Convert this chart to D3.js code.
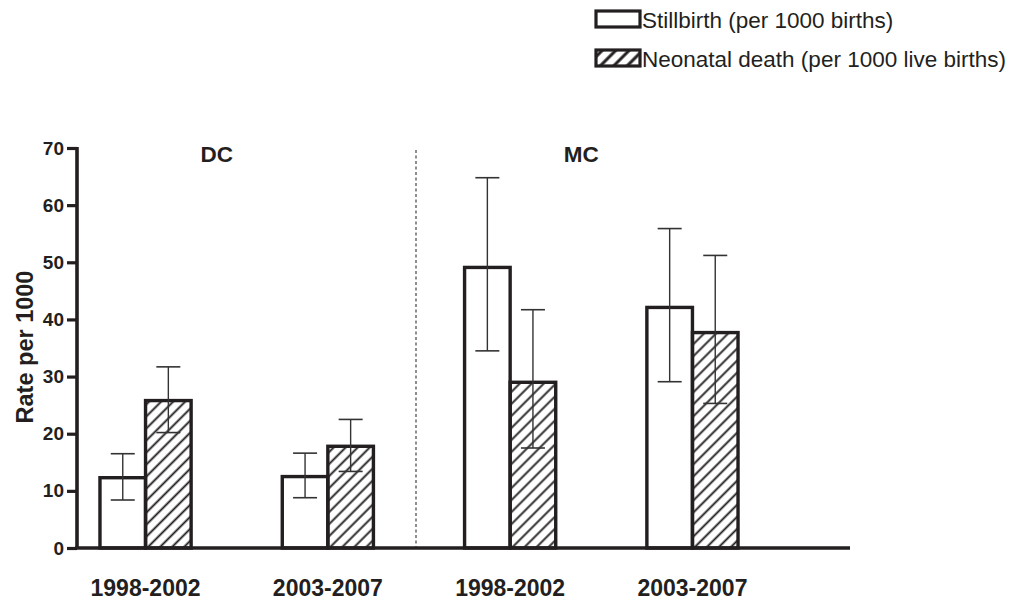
<!DOCTYPE html>
<html>
<head>
<meta charset="utf-8">
<script src="https://cdn.jsdelivr.net/npm/d3@7"></script>
<style>
  body { margin: 0; background: #fff; }
  text { font-family: "Liberation Sans", Arial, sans-serif; fill: #231f20; }
</style>
</head>
<body>
<div class="chart"></div>
<script>
// values
const cohorts = ['DC', 'DC', 'MC', 'MC'];
const periods = ['1998-2002', '2003-2007', '1998-2002', '2003-2007'];
const series = ['stillbirth', 'neonatal'];
const seriesLabels = ['Stillbirth (per 1000 births)', 'Neonatal death (per 1000 live births)'];

const stillbirth = [12.3, 12.5, 49.1, 42.1];
const stillLow   = [8.4, 8.8, 34.5, 29.1];
const stillHigh  = [16.5, 16.6, 64.8, 55.9];

const neonatal = [25.8, 17.8, 29.0, 37.7];
const neoLow   = [20.2, 13.4, 17.5, 25.3];
const neoHigh  = [31.7, 22.5, 41.7, 51.2];

const yTicks = [0, 10, 20, 30, 40, 50, 60, 70];

const width = 1011;
const height = 602;
const ink = '#231f20';

var keys = periods.map(function(p, i){ return cohorts[i] + ' ' + p; });

var rows = keys.map(function(k, i){
    return {
        key: k, cohort: cohorts[i], period: periods[i],
        values: [
            {s: 'stillbirth', v: stillbirth[i], lo: stillLow[i], hi: stillHigh[i]},
            {s: 'neonatal', v: neonatal[i], lo: neoLow[i], hi: neoHigh[i]}
        ]
    };
});

var svg = d3.select('.chart')
    .append('svg')
    .attr('width', width)
    .attr('height', height);

// hatch patterns (bars, and a coarser one for the legend swatch)
var defs = svg.append('defs');
function hatch(id, step, lw){
    defs.append('pattern')
        .attr('id', id)
        .attr('patternUnits', 'userSpaceOnUse')
        .attr('width', step)
        .attr('height', step)
        .attr('patternTransform', 'rotate(45)')
        .append('line')
        .attr('x1', step / 2).attr('y1', 0)
        .attr('x2', step / 2).attr('y2', step)
        .attr('stroke', ink)
        .attr('stroke-width', lw);
}
hatch('hatch', 8.5, 1.9);
hatch('hatch-legend', 9.5, 3);

var x0 = d3.scaleBand()
    .domain(keys)
    .range([77, 761])
    .paddingInner(0.5)
    .paddingOuter(0.126);

var x1 = d3.scaleBand()
    .domain(series)
    .range([0, x0.bandwidth()]);

var y = d3.scaleLinear()
    .domain([0, 70])
    .range([548, 148]);

// dashed divider between DC and MC
var divX = (x0(keys[1]) + x0.bandwidth() + x0(keys[2])) / 2 - 3;
svg.append('line')
    .attr('x1', divX).attr('x2', divX)
    .attr('y1', 150).attr('y2', y(0))
    .attr('stroke', '#444')
    .attr('stroke-width', 1.2)
    .attr('stroke-dasharray', '3,2.5');

// bars
var groups = svg.selectAll('g.group')
    .data(rows)
    .enter()
    .append('g')
    .attr('class', 'group')
    .attr('transform', function(d){ return 'translate(' + x0(d.key) + ',0)'; });

groups.selectAll('rect')
    .data(function(d){ return d.values; })
    .enter()
    .append('rect')
    .attr('x', function(d){ return x1(d.s); })
    .attr('y', function(d){ return y(d.v); })
    .attr('width', x1.bandwidth())
    .attr('height', function(d){ return y(0) - y(d.v); })
    .attr('fill', function(d){ return d.s == 'neonatal' ? 'url(#hatch)' : '#fff'; })
    .attr('stroke', ink)
    .attr('stroke-width', 3.4);

// error bars
var err = groups.selectAll('g.err')
    .data(function(d){ return d.values; })
    .enter()
    .append('g')
    .attr('class', 'err')
    .attr('transform', function(d){ return 'translate(' + (x1(d.s) + x1.bandwidth() / 2) + ',0)'; });

err.append('line')
    .attr('x1', 0).attr('x2', 0)
    .attr('y1', function(d){ return y(d.lo); })
    .attr('y2', function(d){ return y(d.hi); })
    .attr('stroke', '#333')
    .attr('stroke-width', 1.4);

err.selectAll('line.cap')
    .data(function(d){ return [d.lo, d.hi]; })
    .enter()
    .append('line')
    .attr('class', 'cap')
    .attr('x1', -12).attr('x2', 12)
    .attr('y1', function(d){ return y(d); })
    .attr('y2', function(d){ return y(d); })
    .attr('stroke', '#333')
    .attr('stroke-width', 1.6);

// y axis
var yAxis = svg.append('g')
    .attr('transform', 'translate(77,0)')
    .call(d3.axisLeft(y).tickValues(yTicks).tickSize(10).tickPadding(3));

yAxis.select('.domain')
    .attr('d', 'M0,' + (y(70) - 1) + 'V' + y(0))
    .attr('stroke', ink)
    .attr('stroke-width', 3.6);
yAxis.selectAll('.tick line')
    .attr('stroke', ink)
    .attr('stroke-width', 3.2);
yAxis.selectAll('.tick text')
    .attr('font-size', '19px')
    .attr('font-weight', 'bold')
    .attr('fill', ink)
    .style('font-family', '"Liberation Sans", Arial, sans-serif');

// x axis baseline
svg.append('line')
    .attr('x1', 75).attr('x2', 850)
    .attr('y1', y(0)).attr('y2', y(0))
    .attr('stroke', ink)
    .attr('stroke-width', 3.6);

// period labels
svg.selectAll('text.period')
    .data(rows)
    .enter()
    .append('text')
    .attr('class', 'period')
    .attr('x', function(d){ return x0(d.key) + x0.bandwidth() / 2; })
    .attr('y', 596)
    .attr('text-anchor', 'middle')
    .attr('font-size', '23px')
    .attr('font-weight', 'bold')
    .text(function(d){ return d.period; });

// cohort headers
var cohortNames = ['DC', 'MC'];
svg.selectAll('text.cohort')
    .data(cohortNames)
    .enter()
    .append('text')
    .attr('class', 'cohort')
    .attr('x', function(c){
        var ks = keys.filter(function(k, i){ return cohorts[i] == c; });
        return (x0(ks[0]) + x0(ks[ks.length - 1]) + x0.bandwidth()) / 2 - 20;
    })
    .attr('y', 162)
    .attr('text-anchor', 'middle')
    .attr('font-size', '22.5px')
    .attr('font-weight', 'bold')
    .text(function(c){ return c; });

// y label
svg.append('text')
    .attr('transform', 'translate(33,347) rotate(-90)')
    .attr('text-anchor', 'middle')
    .attr('font-size', '23.5px')
    .attr('font-weight', 'bold')
    .text('Rate per 1000');

// legend
var legend = svg.selectAll('g.legend')
    .data(series)
    .enter()
    .append('g')
    .attr('class', 'legend')
    .attr('transform', function(d, i){ return 'translate(596,' + (11 + i * 39) + ')'; });

legend.append('rect')
    .attr('width', 44)
    .attr('height', 16)
    .attr('fill', function(d){ return d == 'neonatal' ? 'url(#hatch-legend)' : '#fff'; })
    .attr('stroke', ink)
    .attr('stroke-width', 3.2);

legend.append('text')
    .attr('x', 46)
    .attr('y', 17)
    .attr('font-size', '22.5px')
    .text(function(d, i){ return seriesLabels[i]; });
</script>
</body>
</html>
